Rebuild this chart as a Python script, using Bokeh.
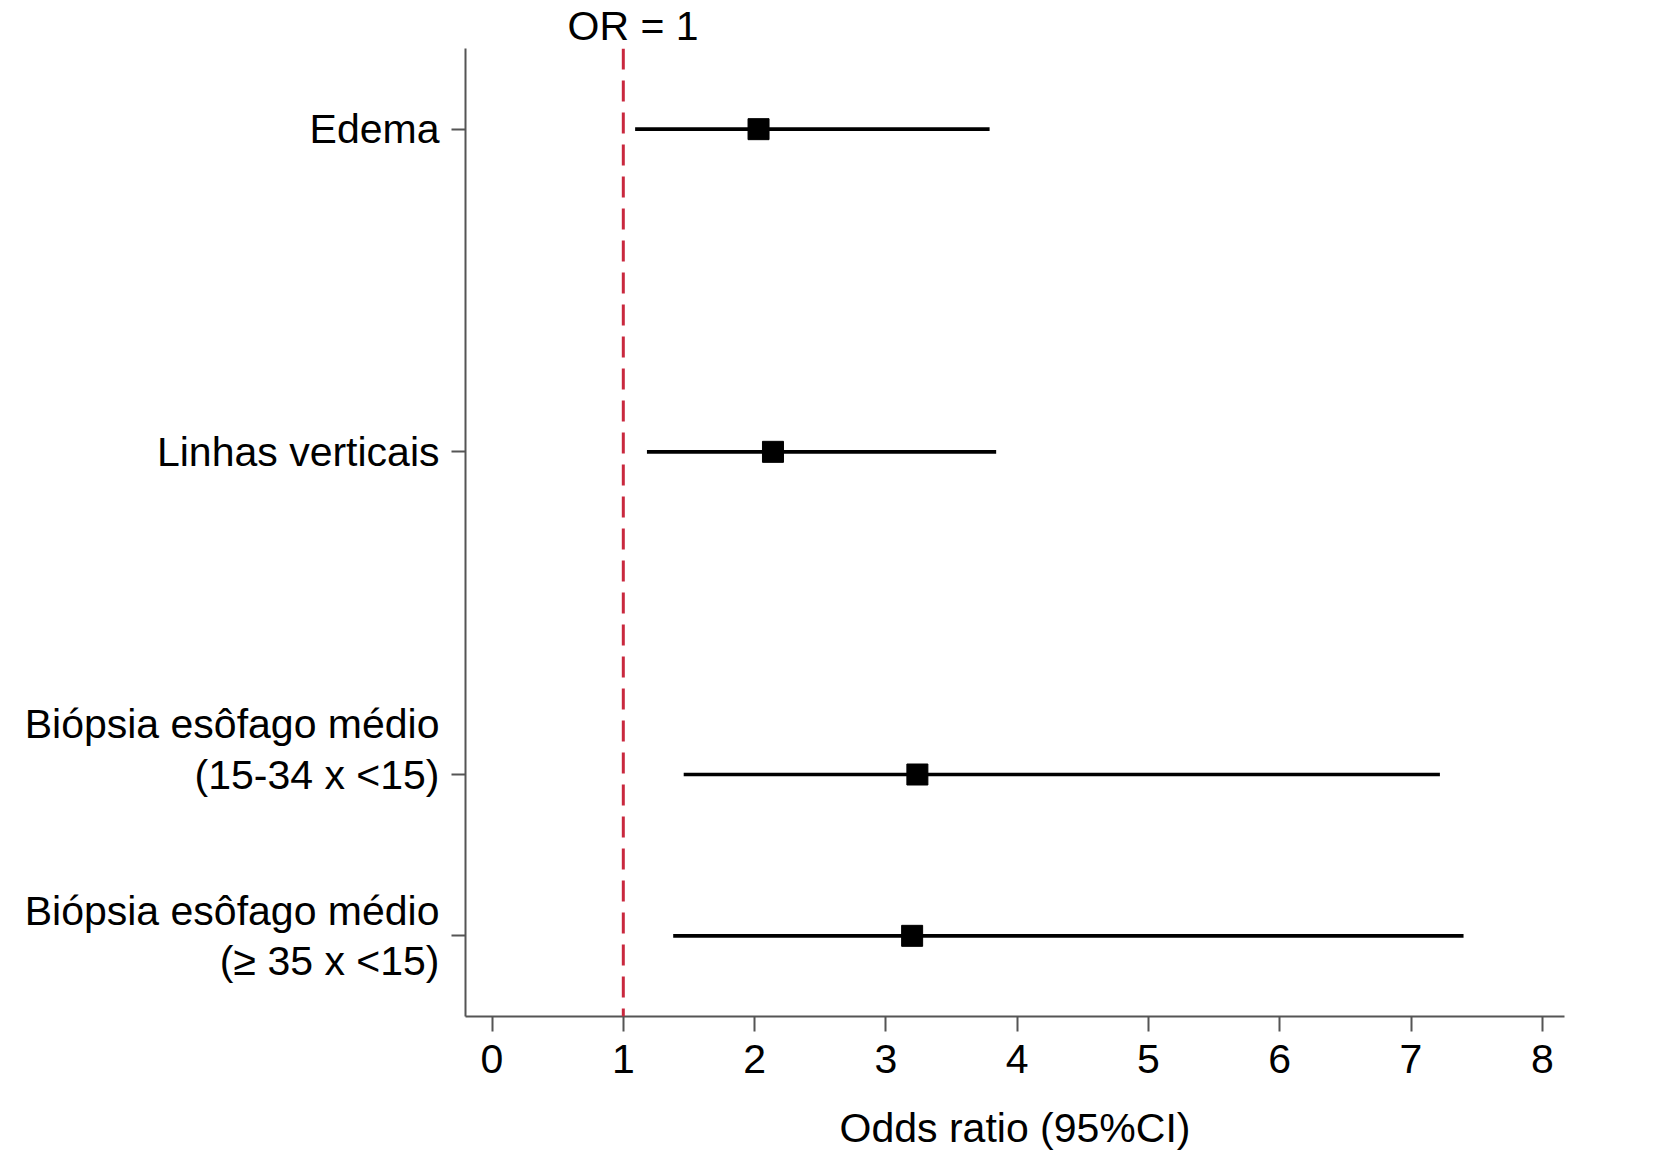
from bokeh.plotting import figure
from bokeh.models import ColumnDataSource, FixedTicker, Span, Range1d, Title
from bokeh.embed import file_html
from bokeh.resources import INLINE

# ---- data ----
labels = ["Edema", "Linhas verticais",
          "Biópsia esôfago médio\n(15-34 x <15)\n ",
          "Biópsia esôfago médio\n(≥ 35 x <15)"]
row_pos = [5, 3, 1, 0]
odds_ratio = [2.03, 2.14, 3.24, 3.20]
ci_low = [1.09, 1.18, 1.46, 1.38]
ci_high = [3.79, 3.84, 7.22, 7.40]
x_ticks = [0, 1, 2, 3, 4, 5, 6, 7, 8]
or_ref = 1

FONT = "Liberation Sans"
FS = "41px"
AXC = "#555555"

src = ColumnDataSource(dict(y=row_pos, orv=odds_ratio, lo=ci_low, hi=ci_high))

p = figure(width=1647, height=1153, output_backend="svg", toolbar_location=None,
           x_range=Range1d(-0.202, 8.169), y_range=Range1d(-0.5, 5.5),
           min_border_left=465, min_border_right=83, min_border_top=48,
           min_border_bottom=136)
p.outline_line_color = None
p.xgrid.visible = False
p.ygrid.visible = False
p.background_fill_color = "white"
p.border_fill_color = "white"

# "OR = 1" title placed over the reference line
t = Title(text="OR = 1", align="left", offset=102, standoff=0,
          text_font=FONT, text_font_size=FS, text_font_style="normal",
          text_color="black")
p.add_layout(t, "above")

# reference line OR = 1
p.add_layout(Span(location=or_ref, dimension="height", line_color="#c9283e",
                  line_width=3, line_dash="21 11"))

p.segment(x0="lo", x1="hi", y0="y", y1="y", source=src, line_color="black",
          line_width=3.6)
p.scatter(x="orv", y="y", source=src, marker="square", size=21,
          fill_color="black", line_color="black")

# x axis
p.xaxis.ticker = FixedTicker(ticks=x_ticks)
p.xaxis.axis_label = "Odds ratio (95%CI)"
p.xaxis.axis_label_text_font = FONT
p.xaxis.axis_label_text_font_size = FS
p.xaxis.axis_label_text_font_style = "normal"
p.xaxis.axis_label_text_color = "black"
p.xaxis.axis_label_standoff = 29
p.xaxis.axis_line_color = AXC
p.xaxis.axis_line_width = 2
p.xaxis.major_tick_line_color = AXC
p.xaxis.major_tick_line_width = 2
p.xaxis.major_tick_out = 15
p.xaxis.major_tick_in = 0
p.xaxis.minor_tick_line_color = None
p.xaxis.major_label_text_font = FONT
p.xaxis.major_label_text_font_size = FS
p.xaxis.major_label_text_color = "black"
p.xaxis.major_label_standoff = 13

# y axis
p.yaxis.ticker = FixedTicker(ticks=row_pos)
p.yaxis.major_label_overrides = {y: lab for y, lab in zip(row_pos, labels)}
p.yaxis.axis_line_color = AXC
p.yaxis.axis_line_width = 2
p.yaxis.major_tick_line_color = AXC
p.yaxis.major_tick_line_width = 2
p.yaxis.major_tick_out = 14
p.yaxis.major_tick_in = 0
p.yaxis.minor_tick_line_color = None
p.yaxis.major_label_text_font = FONT
p.yaxis.major_label_text_font_size = FS
p.yaxis.major_label_text_color = "black"
p.yaxis.major_label_text_line_height = 1.1
p.yaxis.major_label_standoff = 12

open("out.html", "w").write(file_html(p, INLINE))
